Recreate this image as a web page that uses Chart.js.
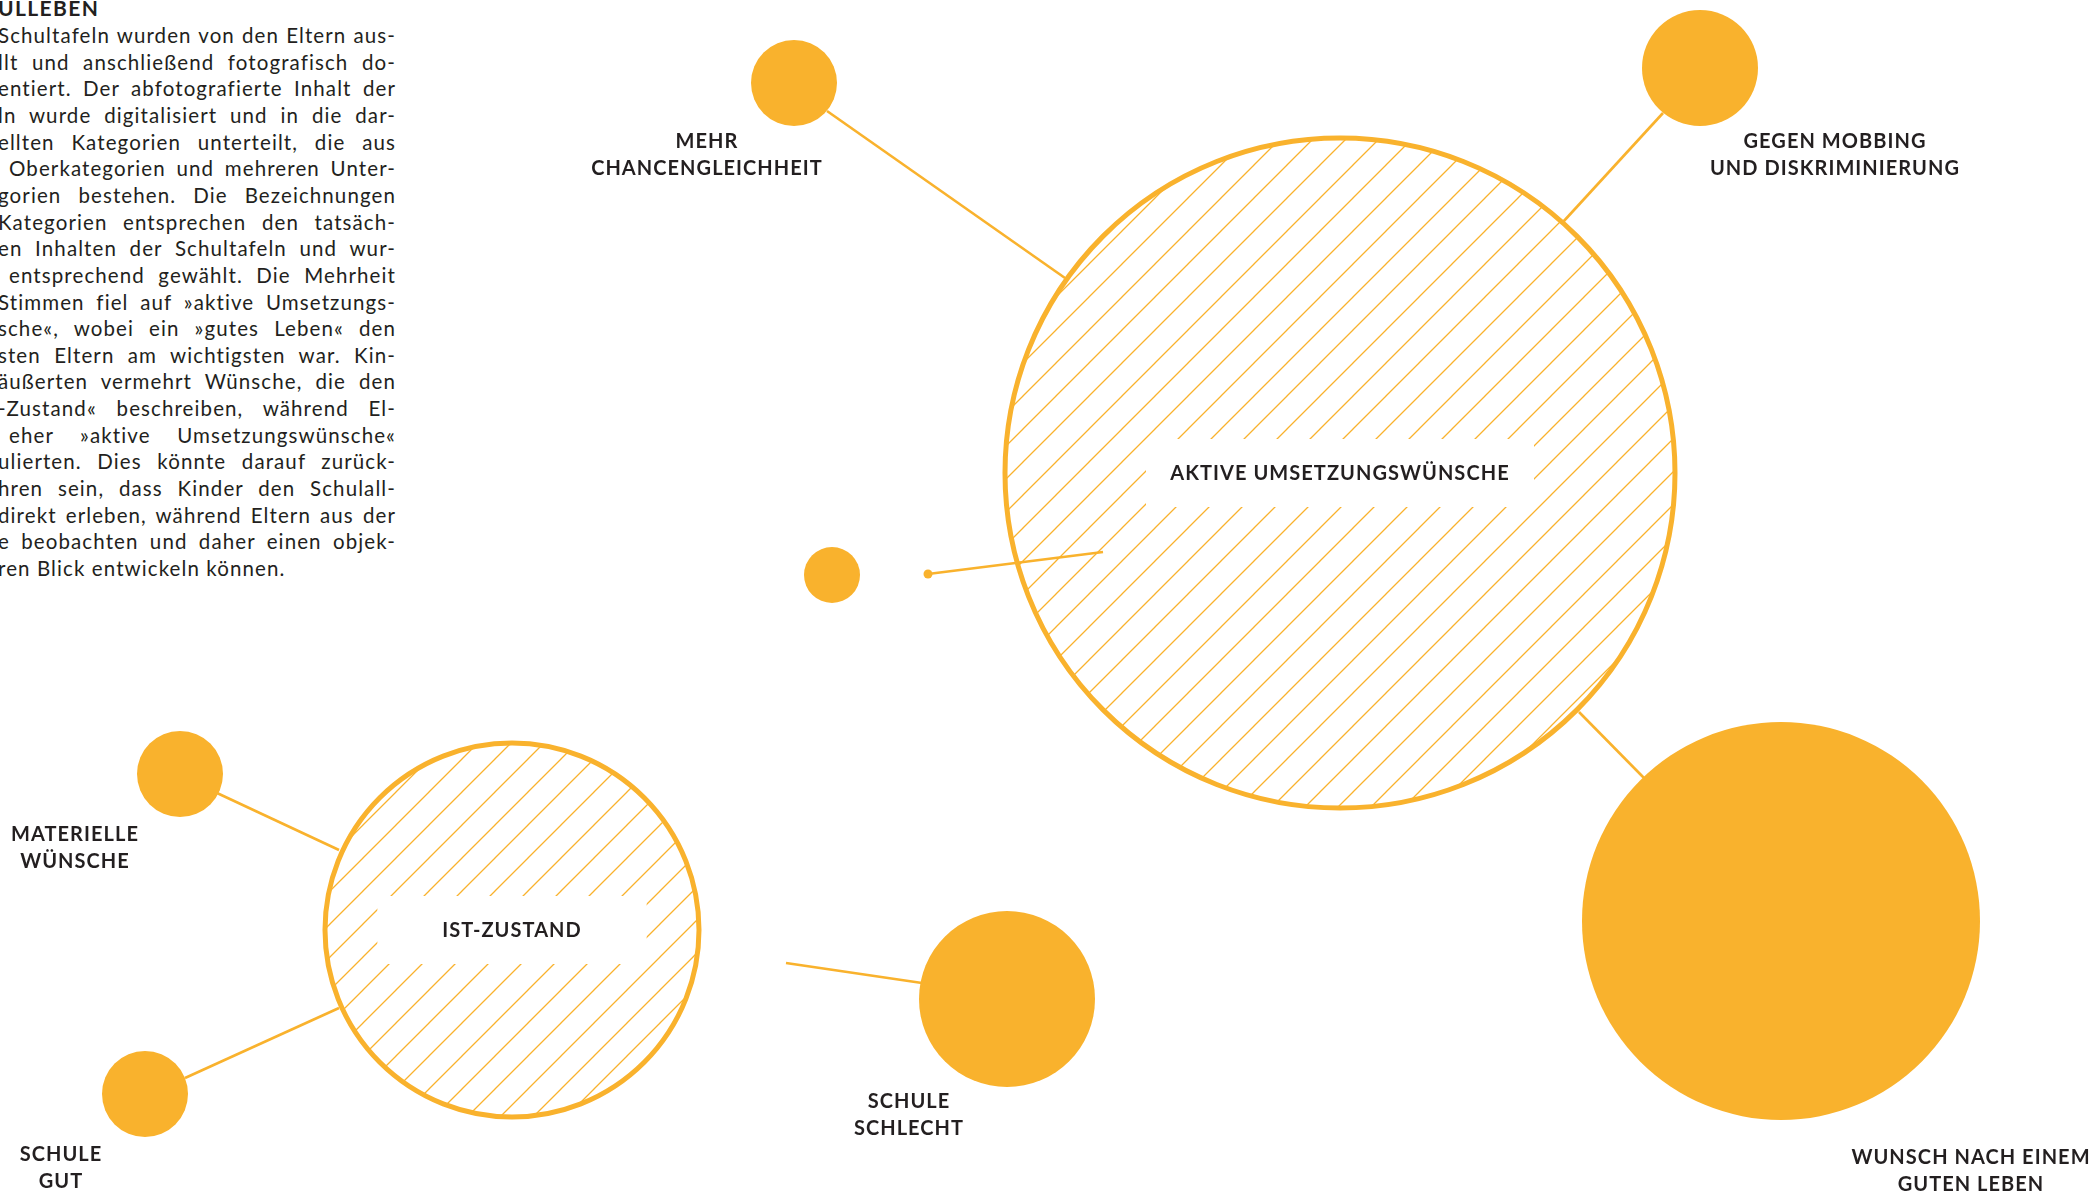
<!DOCTYPE html>
<html>
<head>
<meta charset="utf-8">
<script src="https://cdn.jsdelivr.net/npm/chart.js@4.4.1/dist/chart.umd.min.js"></script>
<style>
    html, body { margin: 0; padding: 0; background: #fff; overflow: hidden; }
    .page { position: relative; width: 2095px; height: 1192px; overflow: hidden; }
    .chart-wrap { position: absolute; left: 0; top: 0; width: 2095px; height: 1192px; }
    .intro { position: absolute; left: 0; top: 0; font-family: Lato, sans-serif; color: #231f20; }
    .intro .title { position: absolute; left: -2px; top: -5px; font-weight: 700; font-size: 21px; letter-spacing: 1.4px; white-space: nowrap; }
    .intro .line { position: absolute; font-size: 20.5px; letter-spacing: 1.1px; white-space: nowrap; text-align: justify; text-align-last: justify; height: 26px; line-height: 26px; }
    .intro .line.last { text-align-last: left; }
</style>
</head>
<body>
<div class="page">
    <div class="intro" id="intro"></div>
    <div class="chart-wrap"><canvas id="bubbleChart"></canvas></div>
</div>
<script>
// Main categories (hatched circles)
const mainLabels = ['AKTIVE UMSETZUNGSWÜNSCHE', 'IST-ZUSTAND'];
const mainX = [1340, 512];
const mainY = [473, 930];
const mainR = [335, 187];

// Sub categories (solid circles)
const subLabels = [
    ['GEGEN MOBBING', 'UND DISKRIMINIERUNG'],
    ['MEHR', 'CHANCENGLEICHHEIT'],
    [],
    ['WUNSCH NACH EINEM', 'GUTEN LEBEN'],
    ['SCHULE', 'SCHLECHT'],
    ['MATERIELLE', 'WÜNSCHE'],
    ['SCHULE', 'GUT']
];
const subX = [1700, 794, 832, 1781, 1007, 180, 145];
const subY = [68, 83, 575, 921, 999, 774, 1094];
const subR = [58, 43, 28, 199, 88, 43, 43];
const subLabelX = [1835, 707, 0, 1971, 909, 75, 61];
const subLabelY = [142, 142, 0, 1158, 1102, 835, 1155];

// Connector lines: start x, start y, end x, end y
const linkX1 = [1663, 827, 928, 1579, 786, 217, 185];
const linkY1 = [113, 111, 574, 712, 963, 793, 1078];
const linkX2 = [1563, 1065, 1103, 1644, 922, 339, 339];
const linkY2 = [222, 278, 552, 778, 983, 850, 1008];
const linkDot = [false, false, true, false, false, false, false];

// Intro text (left part of the page is cut off)
const introTitle = 'ULLEBEN';
const introLines = [
    'Schultafeln wurden von den Eltern aus-',
    'llt und anschließend fotografisch do-',
    'entiert. Der abfotografierte Inhalt der',
    'ln wurde digitalisiert und in die dar-',
    'ellten Kategorien unterteilt, die aus',
    ' Oberkategorien und mehreren Unter-',
    'gorien bestehen. Die Bezeichnungen',
    'Kategorien entsprechen den tatsäch-',
    'en Inhalten der Schultafeln und wur-',
    ' entsprechend gewählt. Die Mehrheit',
    'Stimmen fiel auf »aktive Umsetzungs-',
    'sche«, wobei ein »gutes Leben« den',
    'sten Eltern am wichtigsten war. Kin-',
    'äußerten vermehrt Wünsche, die den',
    '-Zustand« beschreiben, während El-',
    ' eher »aktive Umsetzungswünsche«',
    'ulierten. Dies könnte darauf zurück-',
    'hren sein, dass Kinder den Schulall-',
    'direkt erleben, während Eltern aus der',
    'e beobachten und daher einen objek-',
    'ren Blick entwickeln können.'
];

const ORANGE = '#f9b22d';
const INK = '#231f20';
const LABEL_FONT = 'bold 20px Lato, sans-serif';

// bubbles sit at fixed spots, so no auto padding around the chart area
Chart.controllers.bubble.prototype.getMaxOverflow = function() { return 0; };
Chart.controllers.line.prototype.getMaxOverflow = function() { return 0; };

function buildIntro() {
    const box = document.getElementById('intro');
    const t = document.createElement('div');
    t.className = 'title';
    t.textContent = introTitle;
    box.appendChild(t);
    introLines.forEach((txt, i) => {
        const d = document.createElement('div');
        d.className = 'line' + (i === introLines.length - 1 ? ' last' : '');
        const lead = txt.startsWith(' ');
        d.textContent = txt.trim();
        d.style.left = (lead ? 9 : -2) + 'px';
        d.style.width = (lead ? 387 : 398) + 'px';
        d.style.top = (22 + i * 26.65) + 'px';
        box.appendChild(d);
    });
}

function makeHatch() {
    const s = 33;
    const c = document.createElement('canvas');
    c.width = s; c.height = s;
    const g = c.getContext('2d');
    g.strokeStyle = ORANGE;
    g.lineWidth = 1.3;
    g.beginPath();
    g.moveTo(-2, s + 2); g.lineTo(s + 2, -2);
    g.moveTo(-2, 2); g.lineTo(2, -2);
    g.moveTo(s - 2, s + 2); g.lineTo(s + 2, s - 2);
    g.stroke();
    return g.createPattern(c, 'repeat');
}

// Labels for circles, white box behind main labels
const labelPlugin = {
    id: 'circleLabels',
    afterDatasetsDraw(chart) {
        const ctx = chart.ctx;
        const xs = chart.scales.x, ys = chart.scales.y;
        ctx.save();
        ctx.font = LABEL_FONT;
        ctx.letterSpacing = '1.05px';
        ctx.textAlign = 'center';
        ctx.textBaseline = 'middle';

        mainLabels.forEach((txt, i) => {
            const cx = xs.getPixelForValue(mainX[i]);
            const cy = ys.getPixelForValue(mainY[i]);
            const r = mainR[i];
            const w = Math.min(r * 1.44, 388);
            ctx.fillStyle = '#fff';
            ctx.fillRect(cx - w / 2, cy - 34, w, 68);
            ctx.fillStyle = INK;
            ctx.fillText(txt, cx, cy + 1);
        });

        ctx.fillStyle = INK;
        subLabels.forEach((lines, i) => {
            const lx = xs.getPixelForValue(subLabelX[i]);
            const ly = ys.getPixelForValue(subLabelY[i]);
            lines.forEach((l, j) => ctx.fillText(l, lx, ly + j * 26.5));
        });
        ctx.restore();
    }
};

function initChart() {
    buildIntro();
    const ctx = document.getElementById('bubbleChart').getContext('2d');
    const hatch = makeHatch();

    const linkSets = linkX1.map((x, i) => ({
        type: 'line',
        data: [{ x: x, y: linkY1[i] }, { x: linkX2[i], y: linkY2[i] }],
        borderColor: ORANGE,
        backgroundColor: ORANGE,
        borderWidth: 2.6,
        pointRadius: linkDot[i] ? [4.5, 0] : 0,
        pointBorderWidth: 0,
        fill: false,
        clip: false,
        order: 3
    }));

    new Chart(ctx, {
        type: 'bubble',
        data: {
            datasets: [
                ...linkSets,
                {
                    label: 'Unterkategorien',
                    data: subX.map((x, i) => ({ x: x, y: subY[i], r: subR[i] })),
                    backgroundColor: ORANGE,
                    borderWidth: 0,
                    clip: false,
                    order: 2
                },
                {
                    label: 'Oberkategorien',
                    data: mainX.map((x, i) => ({ x: x, y: mainY[i], r: mainR[i] })),
                    backgroundColor: hatch,
                    borderColor: ORANGE,
                    borderWidth: 5,
                    clip: false,
                    order: 1
                }
            ]
        },
        options: {
            responsive: true,
            maintainAspectRatio: false,
            animation: false,
            layout: { padding: 0 },
            scales: {
                x: { type: 'linear', min: 0, max: 2095, display: false },
                y: { type: 'linear', min: 0, max: 1192, reverse: true, display: false }
            },
            plugins: {
                legend: { display: false },
                tooltip: { enabled: false }
            }
        },
        plugins: [labelPlugin]
    });
}

document.addEventListener('DOMContentLoaded', initChart);
</script>
</body>
</html>
